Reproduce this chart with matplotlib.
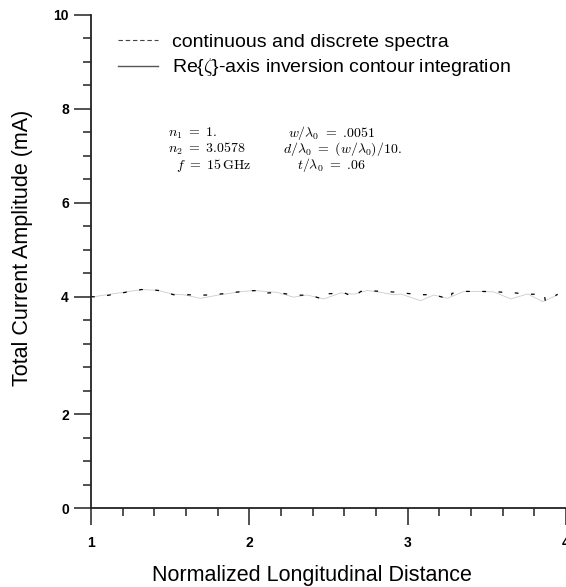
import numpy as np
import matplotlib
matplotlib.use("Agg")
import matplotlib.pyplot as plt
from matplotlib.lines import Line2D
from matplotlib.ticker import FixedLocator, NullFormatter

plt.rcParams['font.family'] = ['Liberation Sans', 'DejaVu Sans']
plt.rcParams['mathtext.fontset'] = 'cm'

# Re{zeta}-axis inversion contour integration (light gray curve)
x_contour = [1.0, 1.025, 1.10, 1.236, 1.321, 1.426, 1.511, 1.595, 1.690, 1.806,
             1.954, 2.027, 2.175, 2.280, 2.365, 2.470, 2.576, 2.660, 2.745, 2.829,
             2.913, 2.956, 3.082, 3.165, 3.251, 3.354, 3.462, 3.544, 3.652, 3.758,
             3.853, 3.947]
y_contour = [4.0, 4.0, 4.04, 4.107, 4.15, 4.13, 4.056, 4.034, 3.97, 4.034,
             4.107, 4.13, 4.09, 3.99, 4.034, 3.96, 4.077, 4.05, 4.13, 4.09,
             4.04, 4.056, 3.93, 4.034, 3.97, 4.107, 4.107, 4.10, 3.96, 4.056,
             3.914, 4.034]

# continuous and discrete spectra (black dashed curve)
x_spectra = [1.0, 1.04, 1.25, 1.32, 1.40, 1.45, 1.52, 1.60, 1.70, 1.78,
             1.985, 2.06, 2.09, 2.175, 2.28, 2.386, 2.47, 2.50, 2.60, 2.66,
             2.703, 2.787, 2.88, 2.90, 3.08, 3.166, 3.27, 3.28, 3.37, 3.47,
             3.568, 3.66, 3.673, 3.758, 3.863, 3.87, 3.947]
y_spectra = [4.0, 3.99, 4.11, 4.15, 4.14, 4.12, 4.04, 4.04, 4.03, 4.04,
             4.12, 4.13, 4.07, 4.09, 4.03, 4.03, 3.95, 4.06, 4.08, 3.99,
             4.11, 4.12, 4.10, 4.10, 4.04, 4.04, 3.95, 4.07, 4.11, 4.11,
             4.10, 4.08, 4.08, 4.05, 4.05, 3.914, 4.05]

y_major = [0, 2, 4, 6, 8, 10]
y_minor = [0.5, 1, 1.5, 2.4, 2.8, 3.2, 3.6, 4.5, 5, 5.5, 6.5, 7, 7.5, 8.5, 9, 9.5]
x_major = [1, 2, 3, 4]
x_minor = [1.2, 1.4, 1.6, 1.8, 2.2, 2.4, 2.6, 2.8, 3.2, 3.4, 3.6, 3.8]

params_left = [r'$n_1\ =\ 1.$', r'$n_2\ =\ 3.0578$', r'$f\ =\ 15\,\mathrm{GHz}$']
params_right = [r'$w/\lambda_0\ =\ .\!0051$', r'$d/\lambda_0\ =\ (w/\lambda_0)/10.$',
                r'$t/\lambda_0\ =\ .\!06$']

# the vertical axis has one extra minor step between 2 and 4
def fwd(v):
    return np.interp(v, [0, 2, 4, 10], [0, 2, 4.5, 10.5])

def inv(p):
    return np.interp(p, [0, 2, 4.5, 10.5], [0, 2, 4, 10])

fig = plt.figure(figsize=(5.66, 5.87), dpi=100)
ax = fig.add_axes([91/566, 79/587, 475/566, 493.3/587])
ax.set_yscale('function', functions=(fwd, inv))

ax.plot(x_contour, y_contour, color='#cccccc', lw=0.6)
ax.plot(x_spectra, y_spectra, color='black', lw=0.9, dashes=(3, 10))

ax.set_xlim(1, 4)
ax.set_ylim(0, 10)
for s in ['top', 'right']:
    ax.spines[s].set_visible(False)
for s in ['left', 'bottom']:
    ax.spines[s].set_linewidth(1.3)
    ax.spines[s].set_color('#222222')

ax.yaxis.set_major_locator(FixedLocator(y_major))
ax.yaxis.set_minor_locator(FixedLocator(y_minor))
ax.yaxis.set_minor_formatter(NullFormatter())
ax.set_yticklabels([str(v) for v in y_major])
ax.xaxis.set_major_locator(FixedLocator(x_major))
ax.xaxis.set_minor_locator(FixedLocator(x_minor))
ax.set_xticklabels([str(v) for v in x_major])

ax.tick_params(which='major', length=12, width=1.1, pad=4, labelsize=10, color='#222222')
ax.tick_params(which='minor', length=6, width=1.1, color='#222222')
ax.tick_params(axis='x', which='major', pad=8)
for lab in ax.get_xticklabels() + ax.get_yticklabels():
    lab.set_fontweight('bold')

ax.set_xlabel('Normalized Longitudinal Distance', fontsize=15.5)
ax.xaxis.set_label_coords((312 - 91) / 475, -(575 - 508) / 493.3)
ax.xaxis.label.set_va('center')
ax.set_ylabel('Total Current Amplitude (mA)', fontsize=15.5)
ax.yaxis.set_label_coords((33 - 91) / 475, (508 - 248) / 493.3)

handles = [Line2D([], [], color='#444444', lw=0.8, dashes=(4, 2.5)),
           Line2D([], [], color='#555555', lw=1.0)]
fig.legend(handles, ['continuous and discrete spectra',
                     r'Re{$\zeta$}-axis inversion contour integration'],
           loc='upper left', bbox_to_anchor=(118/566, 1 - 33/587), frameon=False,
           fontsize=14, handlelength=2.05, handletextpad=0.75, labelspacing=0.3,
           borderpad=0, borderaxespad=0)

left_x = [168, 168, 176]
right_x = [288, 283, 297]
for i in range(3):
    yy = 1 - (133 + i * 16) / 587
    fig.text(left_x[i]/566, yy, params_left[i], ha='left', va='center', fontsize=10)
    fig.text(right_x[i]/566, yy, params_right[i], ha='left', va='center', fontsize=10)

fig.savefig('out.png', dpi=100)
